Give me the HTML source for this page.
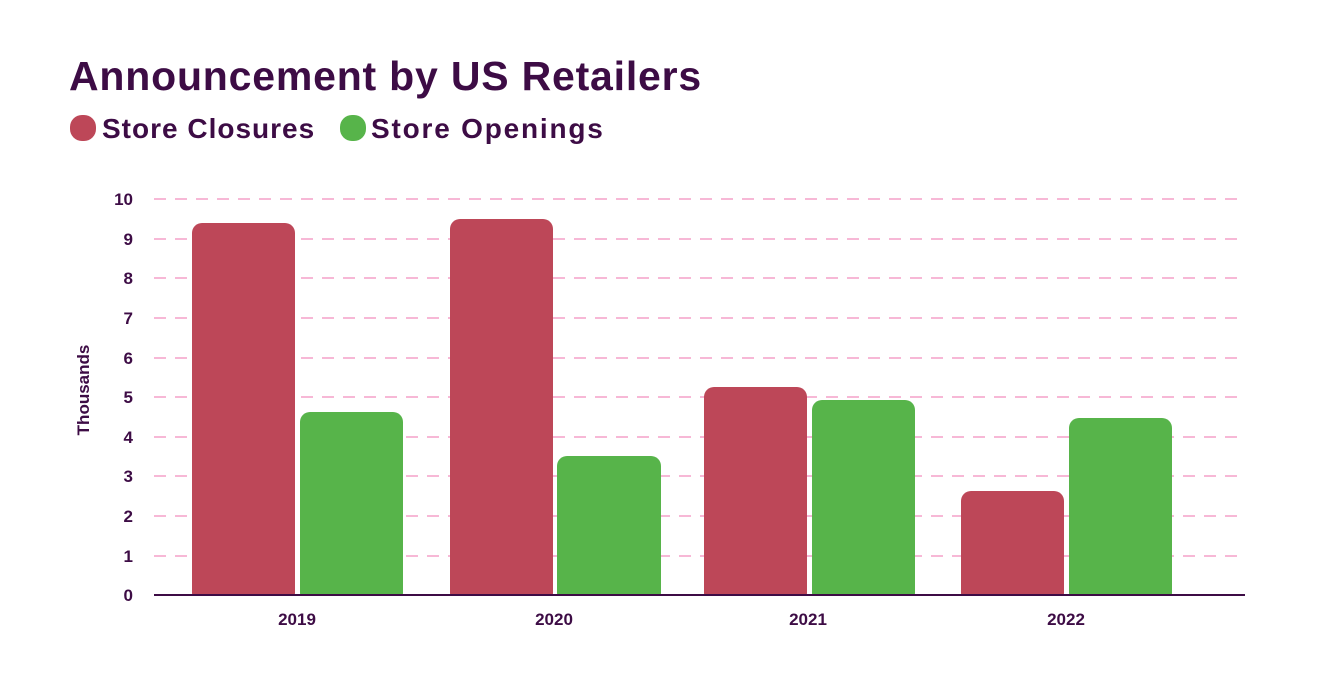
<!DOCTYPE html>
<html><head><style>
body{margin:0;background:#fff;}
</style></head><body>
<svg width="1322" height="669" xmlns="http://www.w3.org/2000/svg" font-family="Liberation Sans, sans-serif" font-weight="bold" fill="#3d0c45">
<text x="69" y="90" font-size="41" letter-spacing="0.8" fill="#3d0c45">Announcement by US Retailers</text>
<rect x="70" y="115" width="26" height="26" rx="12" fill="#bd4758"/>
<text x="102" y="138" font-size="28" letter-spacing="1">Store Closures</text>
<rect x="340" y="115" width="26" height="26" rx="12" fill="#57b44a"/>
<text x="371" y="138" font-size="28" letter-spacing="1.8">Store Openings</text>
<g stroke="#f7b8d6" stroke-width="2" stroke-dasharray="12 9">
<line x1="154" x2="1245" y1="199" y2="199"/><line x1="154" x2="1245" y1="239" y2="239"/>
<line x1="154" x2="1245" y1="278" y2="278"/><line x1="154" x2="1245" y1="318" y2="318"/>
<line x1="154" x2="1245" y1="358" y2="358"/><line x1="154" x2="1245" y1="397" y2="397"/>
<line x1="154" x2="1245" y1="437" y2="437"/><line x1="154" x2="1245" y1="476" y2="476"/>
<line x1="154" x2="1245" y1="516" y2="516"/><line x1="154" x2="1245" y1="556" y2="556"/>
</g>
<g font-size="17" text-anchor="end">
<text x="133" y="205">10</text><text x="133" y="245">9</text><text x="133" y="284">8</text>
<text x="133" y="324">7</text><text x="133" y="364">6</text><text x="133" y="403">5</text>
<text x="133" y="443">4</text><text x="133" y="482">3</text><text x="133" y="522">2</text>
<text x="133" y="562">1</text><text x="133" y="601">0</text>
</g>
<text transform="translate(89,390) rotate(-90)" font-size="17" text-anchor="middle">Thousands</text>
<g fill="#bd4758">
<rect x="192" y="223" width="103" height="380" rx="10"/>
<rect x="450" y="219" width="103" height="384" rx="10"/>
<rect x="704" y="387" width="103" height="216" rx="10"/>
<rect x="961" y="491" width="103" height="112" rx="10"/>
</g>
<g fill="#57b44a">
<rect x="300" y="412" width="103" height="191" rx="10"/>
<rect x="557" y="456" width="104" height="147" rx="10"/>
<rect x="812" y="400" width="103" height="203" rx="10"/>
<rect x="1069" y="418" width="103" height="185" rx="10"/>
</g>
<rect x="150" y="595" width="1172" height="74" fill="#fff"/>
<line x1="154" x2="1245" y1="595" y2="595" stroke="#3d0c45" stroke-width="2"/>
<g font-size="17" text-anchor="middle">
<text x="297" y="625">2019</text><text x="554" y="625">2020</text>
<text x="808" y="625">2021</text><text x="1066" y="625">2022</text>
</g>
</svg>
</body></html>
